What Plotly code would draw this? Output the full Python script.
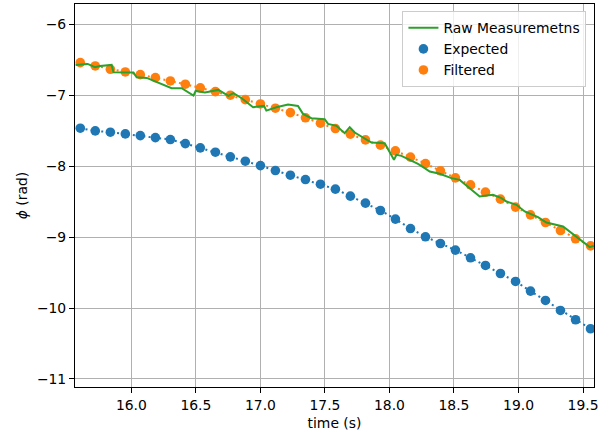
import plotly.graph_objects as go

# Sample times of the expected / filtered estimates (s)
t_est = [15.604, 15.720, 15.837, 15.953, 16.069, 16.186, 16.302, 16.418, 16.534,
         16.651, 16.767, 16.883, 17.000, 17.116, 17.232, 17.349, 17.465, 17.581,
         17.697, 17.814, 17.930, 18.046, 18.163, 18.279, 18.395, 18.511, 18.628,
         18.744, 18.860, 18.977, 19.093, 19.209, 19.325, 19.442, 19.558]

# Expected phase (rad)
phi_expected = [-7.465, -7.503, -7.521, -7.545, -7.569, -7.597, -7.625, -7.682, -7.742,
                -7.803, -7.869, -7.930, -7.992, -8.062, -8.127, -8.189, -8.254, -8.324,
                -8.423, -8.521, -8.625, -8.746, -8.879, -8.996, -9.090, -9.183, -9.292,
                -9.400, -9.513, -9.625, -9.761, -9.893, -10.034, -10.165, -10.292]

# Filtered phase (rad)
phi_filtered = [-6.541, -6.587, -6.634, -6.672, -6.710, -6.752, -6.799, -6.845, -6.897,
                -6.949, -7.000, -7.062, -7.123, -7.183, -7.245, -7.318, -7.394, -7.470,
                -7.549, -7.630, -7.704, -7.785, -7.873, -7.963, -8.066, -8.165, -8.263,
                -8.366, -8.465, -8.577, -8.686, -8.794, -8.907, -9.024, -9.123]

# Raw measurements (s, rad)
t_raw = [15.568, 15.661, 15.718, 15.757, 15.847, 15.861, 16.016, 16.041, 16.119,
         16.209, 16.312, 16.390, 16.481, 16.498, 16.570, 16.674, 16.752, 16.791,
         16.855, 16.943, 17.028, 17.046, 17.124, 17.214, 17.291, 17.330, 17.395,
         17.498, 17.524, 17.589, 17.653, 17.692, 17.731, 17.860, 17.963, 18.035,
         18.054, 18.093, 18.221, 18.273, 18.312, 18.389, 18.480, 18.544, 18.699,
         18.738, 18.802, 18.868, 18.907, 18.984, 19.048, 19.151, 19.216, 19.345,
         19.436, 19.526, 19.552, 19.583]
phi_raw = [-6.573, -6.559, -6.606, -6.587, -6.573, -6.676, -6.681, -6.746, -6.756,
           -6.822, -6.901, -6.901, -7.005, -6.939, -6.963, -6.925, -7.010, -6.972,
           -7.042, -7.169, -7.151, -7.217, -7.169, -7.132, -7.151, -7.263, -7.324,
           -7.338, -7.404, -7.432, -7.535, -7.451, -7.526, -7.667, -7.676, -7.911,
           -7.841, -7.855, -7.968, -8.028, -8.076, -8.108, -8.169, -8.193, -8.428,
           -8.418, -8.404, -8.451, -8.499, -8.545, -8.639, -8.718, -8.794, -8.851,
           -8.982, -9.108, -9.141, -9.123]

x_ticks = [16.0, 16.5, 17.0, 17.5, 18.0, 18.5, 19.0, 19.5]
y_ticks = [-11, -10, -9, -8, -7, -6]

BLUE = "#1f77b4"
ORANGE = "#ff7f0e"
GREEN = "#2ca02c"
FONT = "DejaVu Sans"
FS = 13.9

fig = go.Figure()

# scatter markers (drawn underneath the lines)
fig.add_trace(go.Scatter(x=t_est, y=phi_expected, mode="markers", name="Expected",
                         marker=dict(color=BLUE, size=9.6, line=dict(width=0)),
                         legendrank=2))
fig.add_trace(go.Scatter(x=t_est, y=phi_filtered, mode="markers", name="Filtered",
                         marker=dict(color=ORANGE, size=9.6, line=dict(width=0)),
                         legendrank=3))
# dotted connecting lines
fig.add_trace(go.Scatter(x=t_est, y=phi_expected, mode="lines", showlegend=False,
                         line=dict(color=BLUE, width=2, dash="2px,3.3px")))
fig.add_trace(go.Scatter(x=t_est, y=phi_filtered, mode="lines", showlegend=False,
                         line=dict(color=ORANGE, width=2, dash="2px,3.3px")))
# raw measurement trace
fig.add_trace(go.Scatter(x=t_raw, y=phi_raw, mode="lines", name="Raw Measuremetns",
                         line=dict(color=GREEN, width=2), legendrank=1))

axis_common = dict(
    showline=True, mirror=True, linecolor="black", linewidth=1,
    ticks="outside", ticklen=5, tickwidth=1, tickcolor="black",
    showgrid=True, gridcolor="#b0b0b0", gridwidth=1,
    zeroline=False,
    tickfont=dict(family=FONT, size=FS, color="black"),
)

fig.update_layout(
    width=606, height=434,
    margin=dict(l=75, r=12, t=4, b=47),
    paper_bgcolor="white", plot_bgcolor="white",
    font=dict(family=FONT, size=FS, color="black"),
    xaxis=dict(range=[15.563, 19.585], tickvals=x_ticks,
               ticktext=[f"{v:.1f}" for v in x_ticks],
               title=dict(text="time (s)", font=dict(family=FONT, size=FS), standoff=6),
               **axis_common),
    yaxis=dict(range=[-11.113, -5.714], tickvals=y_ticks,
               ticktext=[f"\u2212{abs(v)}" for v in y_ticks],
               title=dict(text="<i>ϕ</i> (rad)", font=dict(family=FONT, size=FS), standoff=6),
               **axis_common),
    legend=dict(x=0.9854, y=0.981, xanchor="right", yanchor="top",
                bgcolor="rgba(255,255,255,0.8)", bordercolor="#cccccc", borderwidth=1,
                font=dict(family=FONT, size=FS, color="black"),
                traceorder="normal", itemwidth=30),
    showlegend=True,
)

fig.write_html("out.html")
